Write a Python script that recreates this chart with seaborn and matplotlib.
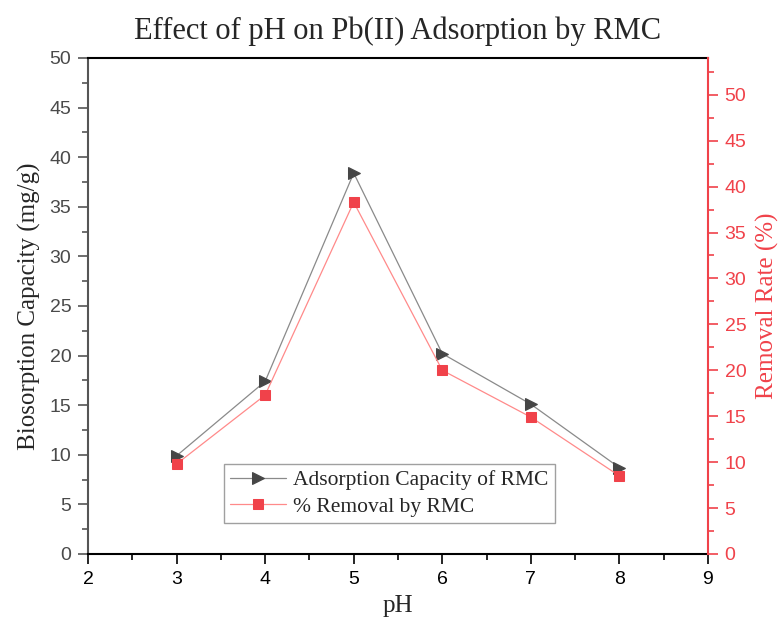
import matplotlib
matplotlib.use("Agg")
import matplotlib.pyplot as plt
import seaborn as sns
import pandas as pd
from matplotlib.ticker import MultipleLocator

sns.set_style("white")

# pH series and measured responses
ph = [3, 4, 5, 6, 7, 8]
capacity = [9.9, 17.4, 38.4, 20.2, 15.1, 8.7]      # mg/g
removal = [9.8, 17.3, 38.3, 20.0, 14.9, 8.5]       # %

series_names = ["Adsorption Capacity of RMC", "% Removal by RMC"]
title = "Effect of pH on Pb(II) Adsorption by RMC"
xlabel = "pH"
ylabel_left = "Biosorption Capacity (mg/g)"
ylabel_right = "Removal Rate (%)"

df = pd.DataFrame({"pH": ph, "capacity": capacity, "removal": removal})

SERIF = "Liberation Serif"
SANS = "Liberation Sans"
RED = "#f0424a"
RED_LINE = "#ff8a8a"
DARK = "#464646"
GRAY_LINE = "#8a8a8a"

fig = plt.figure(figsize=(7.81, 6.2), dpi=100)
ax = fig.add_axes([88 / 781, 1 - 554 / 620, 620 / 781, 496 / 620])
ax2 = ax.twinx()

sns.lineplot(data=df, x="pH", y="capacity", ax=ax, color=GRAY_LINE, lw=0.9,
             marker=">", markersize=9, markerfacecolor=DARK,
             markeredgecolor=DARK, label=series_names[0], legend=False)
sns.lineplot(data=df, x="pH", y="removal", ax=ax2, color=RED_LINE, lw=0.9,
             marker="s", markersize=7.5, markerfacecolor=RED,
             markeredgecolor=RED, label=series_names[1], legend=False)

ax.set_xlim(2, 9)
ax.set_ylim(0, 50)
ax2.set_ylim(0, 54)

ax.xaxis.set_major_locator(MultipleLocator(1))
ax.xaxis.set_minor_locator(MultipleLocator(0.5))
ax.yaxis.set_major_locator(MultipleLocator(5))
ax.yaxis.set_minor_locator(MultipleLocator(2.5))
ax2.yaxis.set_major_locator(MultipleLocator(5))
ax2.yaxis.set_minor_locator(MultipleLocator(2.5))

# spines
for s in ["top", "bottom"]:
    ax.spines[s].set_color("black")
    ax.spines[s].set_linewidth(1.5)
ax.spines["left"].set_color("#555555")
ax.spines["left"].set_linewidth(1.5)
ax.spines["right"].set_visible(False)
for s in ["top", "bottom", "left"]:
    ax2.spines[s].set_visible(False)
ax2.spines["right"].set_color(RED)
ax2.spines["right"].set_linewidth(1.5)

# ticks
ax.tick_params(axis="x", which="major", direction="out", length=7, width=1.2,
               color="black", labelsize=14, labelcolor="black", pad=5,
               bottom=True, top=False)
ax.tick_params(axis="x", which="minor", direction="out", length=4, width=1.2,
               color="black", bottom=True, top=False)
ax.tick_params(axis="y", which="major", direction="out", length=7, width=1.2,
               color="#555555", labelsize=14, labelcolor="#4a4a4a", pad=5, left=True)
ax.tick_params(axis="y", which="minor", direction="out", length=4, width=1.2,
               color="#555555", left=True)
ax2.tick_params(axis="y", which="major", direction="out", length=7, width=1.2,
                color=RED, labelsize=14, labelcolor=RED, pad=5, right=True)
ax2.tick_params(axis="y", which="minor", direction="out", length=4, width=1.2,
                color=RED, right=True)
for lab in ax.get_xticklabels() + ax.get_yticklabels() + ax2.get_yticklabels():
    lab.set_fontfamily(SANS)

ax.set_xlabel(xlabel, fontsize=18, family=SERIF, labelpad=5)
ax.set_ylabel(ylabel_left, fontsize=18, family=SERIF, labelpad=6)
ax2.set_ylabel(ylabel_right, fontsize=18, family=SERIF, color=RED, labelpad=7)
ax.set_title(title, fontsize=22, family=SERIF, pad=14)

h1, l1 = ax.get_legend_handles_labels()
h2, l2 = ax2.get_legend_handles_labels()
leg = ax2.legend(h1 + h2, l1 + l2, loc="lower left",
                 bbox_to_anchor=(0.219, 0.062), prop={"family": SERIF, "size": 15.5},
                 frameon=True, fancybox=False, edgecolor="#888888",
                 borderpad=0.3, labelspacing=0.3, handlelength=2.6,
                 handletextpad=0.3, borderaxespad=0)
leg.get_frame().set_linewidth(1.0)

ax.grid(False)
ax2.grid(False)
fig.savefig("out.png", dpi=100)
